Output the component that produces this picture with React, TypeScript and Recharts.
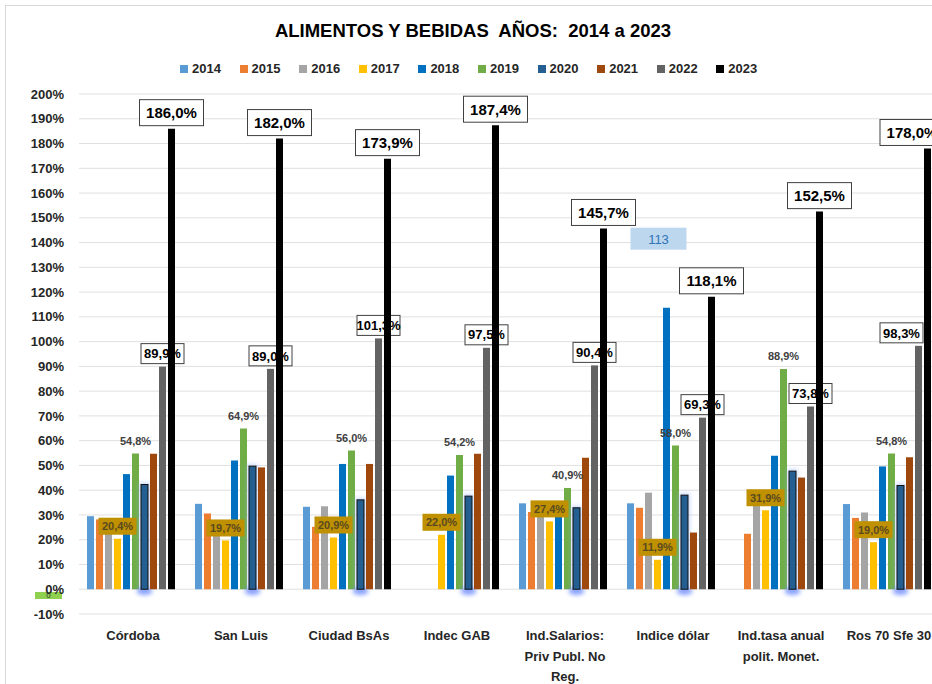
import React from "react";
import { BarChart, Bar, XAxis, YAxis, CartesianGrid, LabelList } from "recharts";

const categories = [
  "Córdoba",
  "San Luis",
  "Ciudad BsAs",
  "Indec GAB",
  "Ind.Salarios:\nPriv Publ. No\nReg.",
  "Indice dólar",
  "Ind.tasa anual\npolit. Monet.",
  "Ros 70 Sfe 30",
];
const years = ["2014", "2015", "2016", "2017", "2018", "2019", "2020", "2021", "2022", "2023"];
const v2014 = [29.5, 34.5, 33.3, null, 34.7, 34.7, null, 34.4];
const v2015 = [28.2, 30.6, 25.2, null, 31.2, 32.9, 22.4, 28.8];
const v2016 = [28.0, 25.0, 33.5, null, 30.0, 39.0, 34.0, 31.0];
const v2017 = [20.4, 19.7, 20.9, 22.0, 27.4, 11.9, 31.9, 19.0];
const v2018 = [46.5, 52.0, 50.6, 45.9, 30.0, 113.7, 53.9, 49.6];
const v2019 = [54.8, 64.9, 56.0, 54.2, 40.9, 58.0, 88.9, 54.8];
const v2020 = [42.3, 49.7, 36.1, 37.6, 32.9, 38.0, 47.7, 41.9];
const v2021 = [54.7, 49.2, 50.6, 54.7, 53.1, 22.9, 45.1, 53.3];
const v2022 = [89.9, 89.0, 101.3, 97.5, 90.4, 69.3, 73.8, 98.3];
const v2023 = [186.0, 182.0, 173.9, 187.4, 145.7, 118.1, 152.5, 178.0];
const yTicks = [-10, 0, 10, 20, 30, 40, 50, 60, 70, 80, 90, 100, 110, 120, 130, 140, 150, 160, 170, 180, 190, 200];
const colors = ["#5B9BD5", "#ED7D31", "#A5A5A5", "#FFC000", "#0070C0", "#70AD47", "#255E91", "#9E480E", "#636363", "#000000"];

const series = [v2014, v2015, v2016, v2017, v2018, v2019, v2020, v2021, v2022, v2023];
const data = categories.map((c, i) => {
  const row: any = { name: c };
  years.forEach((y, k) => {
    row["y" + y] = series[k][i];
  });
  return row;
});

const FONT = "'Liberation Sans', Arial, sans-serif";
const fmt = (v: number) => v.toFixed(1).replace(".", ",") + "%";

const CatTick = (props: any) => {
  const { x, y, payload } = props;
  const lines = String(payload.value).split("\n");
  return (
    <text x={x} y={y} textAnchor="middle" fontFamily={FONT} fontWeight="bold" fontSize={13} fill="#262626">
      {lines.map((l, i) => (
        <tspan key={i} x={x} dy={i === 0 ? 18 : 20.5}>
          {l}
        </tspan>
      ))}
    </text>
  );
};

const goldLabel = (p: any) => {
  if (p.value == null) return null;
  const cx = p.x + p.width / 2;
  const w = 38, h = 17;
  const top = p.y - 4 - h;
  return (
    <g>
      <rect x={cx - w / 2} y={top} width={w} height={h} fill="#BF9000" />
      <text x={cx} y={top + h / 2 + 4} textAnchor="middle" fontFamily={FONT} fontWeight="bold" fontSize={11} fill="#5a4a20">
        {fmt(p.value)}
      </text>
    </g>
  );
};

const plainLabel = (p: any) => {
  if (p.value == null) return null;
  const cx = p.x + p.width / 2;
  return (
    <text x={cx} y={p.y - 9} textAnchor="middle" fontFamily={FONT} fontWeight="bold" fontSize={11} fill="#404040">
      {fmt(p.value)}
    </text>
  );
};

const renderBox = (value: number, cxIn: number, yTop: number, w: number, h: number, fs: number, gap: number, limit: number) => {
  let left = cxIn - w / 2;
  if (left + w > limit) left = limit - w;
  const cx = left + w / 2;
  const top = yTop - gap - h;
  return (
    <g>
      <rect x={left} y={top} width={w} height={h} fill="#ffffff" stroke="#404040" strokeWidth={1} />
      <text x={cx} y={top + h / 2 + fs * 0.36} textAnchor="middle" fontFamily={FONT} fontWeight="bold" fontSize={fs} fill="#000000">
        {fmt(value)}
      </text>
    </g>
  );
};

const label2023 = (p: any) => {
  if (p.value == null) return null;
  return renderBox(p.value, p.x + p.width / 2, p.y, 64, 26, 15, 3, 938);
};

const Shape2022 = (p: any) => {
  const { x, y, width, height, fill } = p;
  if (height == null || width == null) return null;
  const v = p.payload ? p.payload.y2022 : p.value;
  return (
    <g>
      <rect x={x} y={y} width={width} height={height} fill={fill} />
      {v != null ? renderBox(v, x + width / 2, y, 43, 20, 13, 3, 917) : null}
    </g>
  );
};

const dollarLabel = (p: any) => {
  if (p.value == null || p.index !== 5) return null;
  const cx = p.x + p.width / 2 - 8;
  const top = p.y - 80;
  return (
    <g>
      <rect x={cx - 28} y={top} width={56} height={22} fill="#BDD7EE" />
      <text x={cx} y={top + 16} textAnchor="middle" fontFamily={FONT} fontSize={13} fill="#2E75B6">
        {Math.floor(p.value)}
      </text>
    </g>
  );
};

const GlowBar = (p: any) => {
  const { x, y, width, height, fill } = p;
  if (height == null || width == null) return null;
  return (
    <g>
      <rect x={x - 2} y={y - 2} width={width + 4} height={height + 4} fill="#8fb0ff" opacity={0.45} style={{ filter: "blur(2px)" }} />
      <ellipse cx={x + width / 2} cy={y + height + 2} rx={8} ry={4} fill="#4f72ff" opacity={0.6} style={{ filter: "blur(2px)" }} />
      <rect x={x} y={y} width={width} height={height} fill={fill} stroke="#111111" strokeWidth={1} />
    </g>
  );
};

export default function App() {
  return (
    <div
      style={{
        position: "absolute",
        left: 5,
        top: 5,
        width: 926,
        height: 678,
        borderLeft: "1px solid #d9d9d9",
        borderTop: "1px solid #d9d9d9",
        overflow: "hidden",
        background: "#ffffff",
        fontFamily: FONT,
      }}
    >
      <div
        style={{
          position: "absolute",
          left: 0,
          width: 934,
          top: 14,
          textAlign: "center",
          fontWeight: "bold",
          fontSize: 18.5,
          whiteSpace: "pre",
          color: "#000",
        }}
      >
        {"ALIMENTOS Y BEBIDAS  AÑOS:  2014 a 2023"}
      </div>
      <div style={{ position: "absolute", left: 174, top: 55, display: "flex", alignItems: "center" }}>
        {years.map((y, i) => (
          <div key={y} style={{ display: "flex", alignItems: "center", width: 59.6 }}>
            <div style={{ width: 8, height: 8, background: colors[i], marginRight: 4 }} />
            <span style={{ fontSize: 13, fontWeight: "bold", color: "#262626" }}>{y}</span>
          </div>
        ))}
      </div>
      <div
        style={{
          position: "absolute",
          left: 29,
          top: 586,
          width: 27,
          height: 7,
          background: "#8fd14f",
          fontSize: 8,
          lineHeight: "7px",
          textAlign: "center",
          color: "#333",
        }}
      >
        0
      </div>
      <BarChart
        width={942}
        height={690}
        data={data}
        margin={{ top: 88, right: 5, bottom: 12, left: 11 }}
        barCategoryGap={8}
        barGap={2}
      >
        <CartesianGrid horizontal={true} vertical={false} stroke="#e0e0e0" />
        <XAxis
          dataKey="name"
          axisLine={false}
          tickLine={false}
          height={70}
          interval={0}
          tick={<CatTick />}
        />
        <YAxis
          domain={[-10, 200]}
          ticks={yTicks}
          interval={0}
          width={62}
          axisLine={false}
          tickLine={false}
          tickSize={0}
          tickMargin={15}
          tickFormatter={(v: number) => v + "%"}
          tick={{ fontFamily: FONT, fontWeight: "bold", fontSize: 13, fill: "#262626" }}
        />
        <Bar dataKey="y2014" fill={colors[0]} isAnimationActive={false} />
        <Bar dataKey="y2015" fill={colors[1]} isAnimationActive={false} />
        <Bar dataKey="y2016" fill={colors[2]} isAnimationActive={false} />
        <Bar dataKey="y2017" fill={colors[3]} isAnimationActive={false}>
          <LabelList dataKey="y2017" content={goldLabel} />
        </Bar>
        <Bar dataKey="y2018" fill={colors[4]} isAnimationActive={false}>
          <LabelList dataKey="y2018" content={dollarLabel} />
        </Bar>
        <Bar dataKey="y2019" fill={colors[5]} isAnimationActive={false}>
          <LabelList dataKey="y2019" content={plainLabel} />
        </Bar>
        <Bar dataKey="y2020" fill={colors[6]} isAnimationActive={false} shape={GlowBar} />
        <Bar dataKey="y2021" fill={colors[7]} isAnimationActive={false} />
        <Bar dataKey="y2022" fill={colors[8]} isAnimationActive={false} shape={Shape2022} />
        <Bar dataKey="y2023" fill={colors[9]} isAnimationActive={false}>
          <LabelList dataKey="y2023" content={label2023} />
        </Bar>
      </BarChart>
    </div>
  );
}
